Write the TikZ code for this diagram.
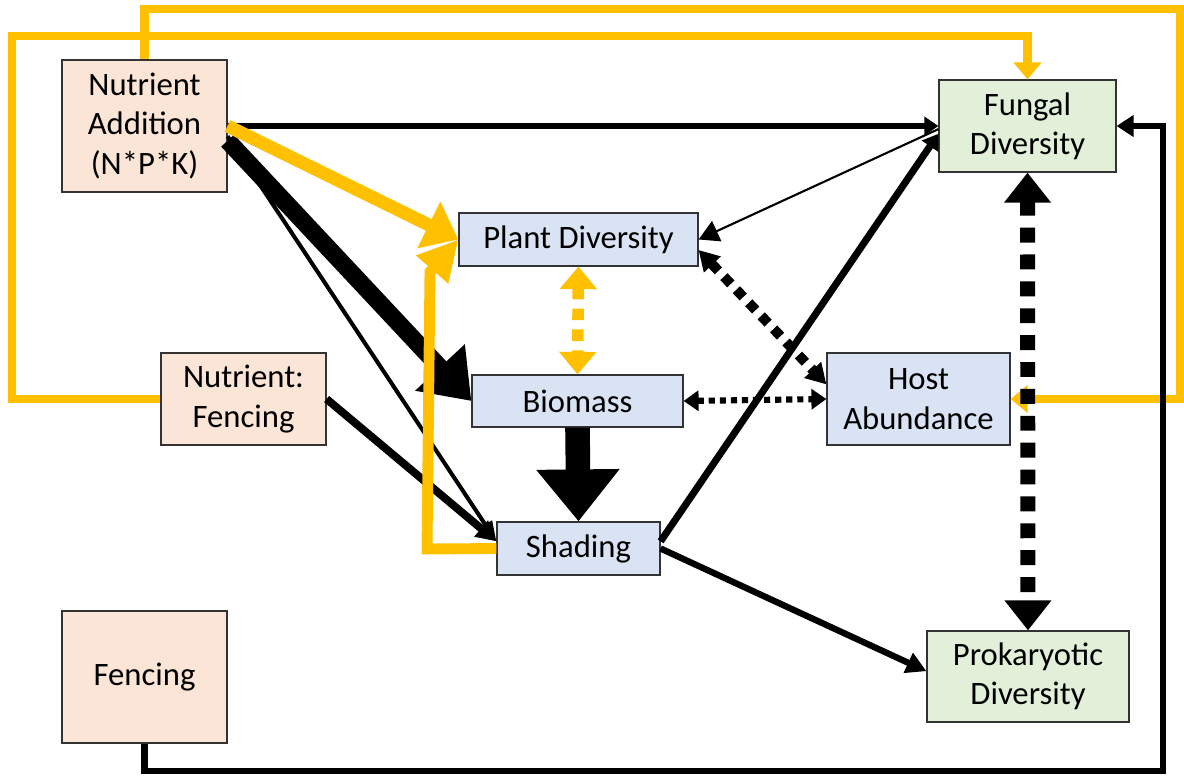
\documentclass[tikz,border=0pt]{standalone}
\usepackage{fontspec}
\setmainfont{Carlito}
\usetikzlibrary{positioning,arrows.meta}
\definecolor{peach}{HTML}{FBE5D6}
\definecolor{paleblue}{HTML}{DAE3F3}
\definecolor{palegreen}{HTML}{E2F0D9}
\definecolor{gold}{HTML}{FFC000}

\begin{document}
\begin{tikzpicture}[
    x=0.02cm,y=-0.02cm,
    font=\fontsize{18.6}{22.4}\selectfont,
    box/.style={draw=black!80,line width=0.7pt,align=center,inner sep=0pt},
    driver/.style={box,fill=peach,minimum width=3.3cm},
    plant/.style={box,fill=paleblue},
    microbe/.style={box,fill=palegreen,minimum height=1.84cm},
    frame/.style={color=gold,line width=4.9pt,-{Triangle[length=0.34cm,width=0.54cm]}},
    ylw/.style={color=gold,line width=#1},
    blk/.style={color=black,line width=#1},
    dots/.style={line width=#1,dash pattern=on #1 off 0.8*#1}
  ]
    \useasboundingbox (0,0) rectangle (1184,775);

    \node[driver,minimum height=2.64cm] (nadd) at (144.5,126) {Nutrient\\Addition\\(N*P*K)};
    \node[driver,minimum height=1.84cm] (nfence) at (243.5,399) {Nutrient:\\Fencing};
    \node[driver,minimum height=2.64cm] (fence) at (144.5,677) {Fencing};
    \node[plant,minimum width=4.78cm,minimum height=1.06cm] (plantdiv) at (578.5,239.5) {Plant Diversity};
    \node[plant,minimum width=4.22cm,minimum height=1.04cm] (biomass) at (577.5,401) {Biomass};
    \node[plant,minimum width=3.26cm,minimum height=1.06cm] (shading) at (578.5,548.5) {Shading};
    \node[plant,minimum width=3.66cm,minimum height=1.84cm] (host) at (918.5,399) {Host\\Abundance};
    \node[microbe,minimum width=3.54cm] (fungal) at (1027.5,126) {Fungal\\Diversity};
    \node[microbe,minimum width=4.04cm,minimum height=1.82cm] (prok) at (1028,676.5) {Prokaryotic\\Diversity};

    \coordinate (ytop) at (1180,9);
    \coordinate (yleft) at (12,36);
    \coordinate (bcorner) at (1163,771);
    \coordinate (ybend) at (427,549);
    \coordinate (ybend2) at (430,272);

    % outer frame lines
    \draw[frame] (nfence.west) -| (yleft) -| (fungal.north);
    \draw[frame] (nadd.north) |- (ytop) |- (host.east);
    \draw[blk=3.6pt,-{Triangle[length=0.34cm,width=0.42cm]}] (fence.south) |- (bcorner) |- (fungal.east);

    % solid black paths
    \draw[blk=3.6pt,-{Triangle[length=0.28cm,width=0.36cm]}] (nadd.east) -- (fungal.west);
    \draw[blk=1.2pt,-{Triangle[length=0.4cm,width=0.44cm]}] (fungal.182) -- (plantdiv.east);
    \draw[blk=4pt,-{Triangle[length=0.3cm,width=0.38cm]}] (shading.5) -- (fungal.185);
    \draw[blk=3.6pt,-{Triangle[length=0.4cm,width=0.42cm]}] (shading.east) -- (prok.177);
    \draw[blk=10pt,-{Triangle[length=0.92cm,width=1.3cm]}] (nadd.-10) -- (biomass.west);
    \draw[blk=2.3pt,-{Triangle[length=0.4cm,width=0.3cm]}] (nadd.-7) -- (shading.175);
    \draw[blk=4.5pt,-{Triangle[length=0.4cm,width=0.4cm]}] (nfence.east) -- (shading.175);
    \draw[blk=14pt,-{Triangle[length=1.04cm,width=1.6cm]}] (biomass.south) -- (shading.north);

    % correlations
    \draw[dots=3.5pt,{Triangle[length=0.3cm,width=0.4cm]}-{Triangle[length=0.3cm,width=0.4cm]}] (biomass.east) -- (host.west);
    \draw[dots=5.7pt,{Triangle[length=0.4cm,width=0.44cm]}-{Triangle[length=0.4cm,width=0.44cm]}] (plantdiv.-5) -- (host.171);
    \draw[dots=8.5pt,{Triangle[length=0.6cm,width=0.9cm]}-{Triangle[length=0.6cm,width=0.9cm]}] (fungal.south) -- (prok.north);
    \draw[color=gold,dots=6.6pt,{Triangle[length=0.45cm,width=0.72cm]}-{Triangle[length=0.45cm,width=0.72cm]}] (plantdiv.south) -- (biomass.north);

    % yellow paths
    \draw[ylw=7.4pt,-{Triangle[length=0.66cm,width=1.0cm]}] (nadd.east) -- (plantdiv.west);
    \draw[ylw=6.2pt,-{Triangle[length=0.8cm,width=0.8cm]}] (shading.west) -- (ybend) -- (ybend2) -- (plantdiv.west);
  \end{tikzpicture}
\end{document}
